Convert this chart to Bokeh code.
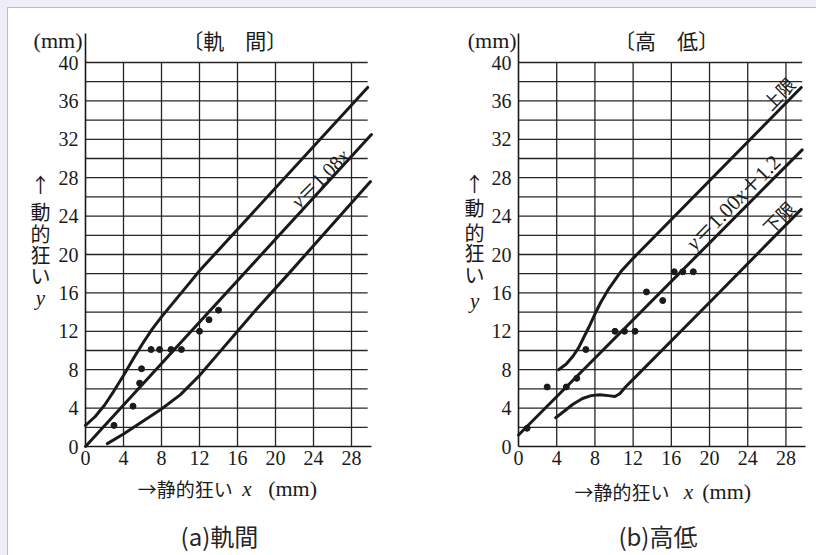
import math
from bokeh.plotting import figure
from bokeh.layouts import row
from bokeh.models import Range1d, FixedTicker, Label, GlobalInlineStyleSheet
from bokeh.embed import file_html
from bokeh.resources import INLINE

# ---------------- data ----------------
x_ticks = [0, 4, 8, 12, 16, 20, 24, 28]
y_ticks = [0, 4, 8, 12, 16, 20, 24, 28, 32, 36, 40]
grid_h = [2, 4, 6, 8, 10, 12, 14, 16, 18, 20, 22, 24, 26, 28, 30, 32, 34, 36, 38, 40]
grid_v = [4, 8, 12, 16, 20, 24, 28]

# (a) 軌間
gauge_mid_x = [0, 30.1]
gauge_mid_y = [0, 32.5]
gauge_up_x = [0, 1, 2, 3, 4, 5, 6, 7, 8, 9, 10, 11, 12, 29.7]
gauge_up_y = [2.2, 3.1, 4.3, 5.8, 7.4, 9.1, 10.7, 12.2, 13.5, 14.7, 15.9, 17.1, 18.3, 37.4]
gauge_lo_x = [2.3, 4, 6, 8, 10, 12, 14, 16, 18, 21.2, 30.0]
gauge_lo_y = [0.3, 1.3, 2.6, 3.9, 5.4, 7.4, 9.7, 12.0, 14.3, 17.8, 27.6]
gauge_pts_x = [3.0, 5.0, 5.7, 5.9, 6.9, 7.8, 9.0, 10.1, 12.0, 13.0, 14.0]
gauge_pts_y = [2.2, 4.2, 6.6, 8.1, 10.1, 10.1, 10.1, 10.1, 12.0, 13.2, 14.2]

# (b) 高低
level_mid_x = [0, 29.7]
level_mid_y = [1.2, 30.9]
level_up_x = [4.2, 5.0, 5.7, 6.3, 6.8, 7.4, 8.0, 8.6, 9.5, 10.7, 12.0, 29.6]
level_up_y = [8.0, 8.6, 9.4, 10.3, 11.3, 12.5, 13.8, 15.0, 16.5, 18.2, 19.6, 37.4]
level_lo_x = [3.9, 4.8, 5.7, 6.7, 7.6, 8.5, 9.4, 10.1, 10.6, 11.2, 12.1, 20.1, 29.6]
level_lo_y = [3.0, 3.7, 4.4, 5.0, 5.3, 5.4, 5.3, 5.2, 5.5, 6.2, 7.1, 15.1, 24.7]
level_pts_x = [0.9, 3.0, 5.0, 6.1, 7.05, 10.1, 11.1, 12.2, 13.4, 15.1, 16.3, 17.2, 18.3]
level_pts_y = [1.9, 6.2, 6.2, 7.1, 10.1, 12.0, 12.0, 12.0, 16.1, 15.2, 18.2, 18.2, 18.2]

# ---------------- style ----------------
SERIF = "Liberation Serif, DejaVu Serif, Noto Sans CJK JP"
CJK = "Noto Sans CJK JP"
INK = "#1a1a1a"
GRID_END_X = 29.7
GRID_END_Y = 40
Y_RANGE = (-11.354, 45.625)


def make_fig(x_start, x_end):
    p = figure(frame_width=404, frame_height=547, min_border=0,
               x_range=Range1d(x_start, x_end), y_range=Range1d(*Y_RANGE),
               output_backend="svg", toolbar_location=None)
    p.outline_line_color = None
    p.background_fill_color = "white"
    p.border_fill_color = "white"
    p.xgrid.visible = False
    p.ygrid.visible = False
    p.xaxis.ticker = FixedTicker(ticks=x_ticks)
    p.yaxis.ticker = FixedTicker(ticks=y_ticks)
    p.xaxis.fixed_location = 0
    p.yaxis.fixed_location = 0
    p.xaxis.bounds = (0, 30.1)
    p.yaxis.bounds = (0, 43)
    for ax in (p.xaxis, p.yaxis):
        ax.major_tick_line_color = None
        ax.minor_tick_line_color = None
        ax.major_tick_in = 0
        ax.major_tick_out = 0
        ax.minor_tick_out = 0
        ax.axis_line_color = INK
        ax.axis_line_width = 1.6
        ax.major_label_text_font = SERIF
        ax.major_label_text_font_size = "20px"
        ax.major_label_text_color = INK
    p.xaxis.major_label_standoff = 4
    p.yaxis.major_label_standoff = 7
    # grid drawn from tick lists
    p.segment(x0=[0] * len(grid_h), y0=grid_h, x1=[GRID_END_X] * len(grid_h), y1=grid_h,
              line_color="#262626", line_width=1.3)
    p.segment(x0=grid_v, y0=[0] * len(grid_v), x1=grid_v, y1=[GRID_END_Y] * len(grid_v),
              line_color="#262626", line_width=1.3)
    return p


def lab(p, x, y, text, font=SERIF, size="19px", style="normal", align="center",
        baseline="middle", color=INK, angle=0, xo=0, yo=0):
    p.add_layout(Label(x=x, y=y, text=text, text_font=font, text_font_size=size,
                       text_font_style=style, text_align=align, text_baseline=baseline,
                       text_color=color, angle=angle, x_offset=xo, y_offset=yo))


def rot_text(p, x, y, parts, size, angle):
    total = sum(w for _, _, w in parts) * size
    c, s_ = math.cos(angle), math.sin(angle)
    px, py = s_ * 0.32 * size, -c * 0.32 * size
    pos = -total / 2
    for text, style, w in parts:
        lab(p, x, y, text, font=SERIF, size=f"{size}px", style=style, align="left",
            baseline="alphabetic", angle=angle, xo=pos * c + px, yo=pos * s_ + py)
        pos += w * size


def decorate(p, title, caption, ylab_x, ylab_ys, xlab_xs, xlab_y, title_x, cap_x, mm_x):
    lab(p, mm_x, 42.3, "(mm)", size="22px", align="right")
    lab(p, title_x, 42.3, title, font=CJK, size="21px")
    chars = ["↑", "動", "的", "狂", "い"]
    for ch, yy in zip(chars, ylab_ys[:5]):
        lab(p, ylab_x, yy, ch, font=CJK, size="20px")
    lab(p, ylab_x, ylab_ys[5], "y", style="italic", size="21px")
    lab(p, xlab_xs[0], xlab_y, "→静的狂い", font=CJK, size="19px")
    lab(p, xlab_xs[1], xlab_y, "x", style="italic", size="21px")
    lab(p, xlab_xs[2], xlab_y, "(mm)", size="22px")
    lab(p, cap_x, -9.3, caption, font=CJK, size="24px", color="#262626")


# ---------------- (a) 軌間 ----------------
pa = make_fig(-8.105, 34.42)
pa.line(gauge_mid_x, gauge_mid_y, line_color=INK, line_width=3, line_cap="round")
pa.line(gauge_up_x, gauge_up_y, line_color=INK, line_width=3, line_cap="round", line_join="round")
pa.line(gauge_lo_x, gauge_lo_y, line_color=INK, line_width=3, line_cap="round", line_join="round")
pa.scatter(gauge_pts_x, gauge_pts_y, size=6, color=INK)
decorate(pa, "〔軌　間〕", "(a)軌間", -4.74, [27.3, 24.5, 22.2, 20.0, 17.8, 15.5],
         [10.5, 17.0, 21.8], -4.4, 15.7, 14.1, -0.32)
rot_text(pa, 24.2, 28.4, [("y", "italic", 0.444), ("＝1.08", "normal", 2.75),
                          ("x", "italic", 0.444)], 20, 0.79)

# ---------------- (b) 高低 ----------------
pb = make_fig(-11.1, 31.2)
pb.line(level_mid_x, level_mid_y, line_color=INK, line_width=3, line_cap="round")
pb.line(level_up_x, level_up_y, line_color=INK, line_width=3, line_cap="round", line_join="round")
pb.line(level_lo_x, level_lo_y, line_color=INK, line_width=3, line_cap="round", line_join="round")
pb.scatter(level_pts_x, level_pts_y, size=6, color=INK)
decorate(pb, "〔高　低〕", "(b)高低", -4.6, [27.4, 24.9, 22.3, 20.2, 17.9, 15.2],
         [10.84, 17.8, 21.8], -4.7, 15.5, 14.6, -0.2)
rot_text(pb, 22.0, 25.9, [("y", "italic", 0.444), ("＝1.00", "normal", 2.75),
                          ("x", "italic", 0.444), ("＋1.2", "normal", 2.25)], 21, 0.79)
lab(pb, 27.2, 36.8, "上限", font=CJK, size="18px", angle=0.79)
lab(pb, 27.2, 23.9, "下限", font=CJK, size="18px", angle=0.79)

layout = row(pa, pb, styles={"border-top": "1px solid #bdb6e0",
                             "border-left": "1px solid #bdb6e0",
                             "background-color": "white"})
layout.stylesheets = [GlobalInlineStyleSheet(
    css="body{margin:0;padding:7px 0 0 7px;background:#eeeef8;overflow:hidden;}")]

open("out.html", "w").write(file_html(layout, INLINE))
